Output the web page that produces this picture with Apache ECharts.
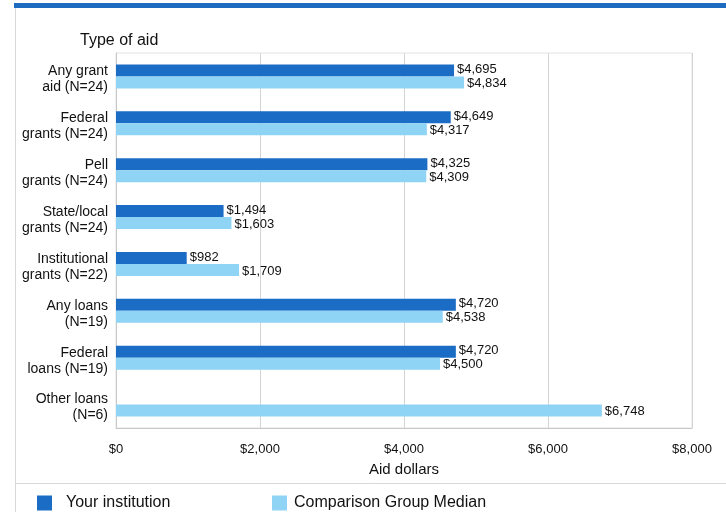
<!DOCTYPE html>
<html>
<head>
<meta charset="utf-8">
<script src="https://cdn.jsdelivr.net/npm/echarts@6/dist/echarts.min.js"></script>
<style>
  html, body { margin: 0; padding: 0; background: #ffffff; }
  #chart { width: 726px; height: 512px; }
</style>
</head>
<body>
<div id="chart"></div>
<script>
// Aid types (two-line labels) and average award amounts
const categories = [
  'Any grant\naid (N=24)',
  'Federal\ngrants (N=24)',
  'Pell\ngrants (N=24)',
  'State/local\ngrants (N=24)',
  'Institutional\ngrants (N=22)',
  'Any loans\n(N=19)',
  'Federal\nloans (N=19)',
  'Other loans\n(N=6)'
];
const yourInstitution = [4695, 4649, 4325, 1494, 982, 4720, 4720, null];
const comparisonMedian = [4834, 4317, 4309, 1603, 1709, 4538, 4500, 6748];
const xTicks = [0, 2000, 4000, 6000, 8000];

const DARK = '#1a6cc4';
const LIGHT = '#8fd3f5';
const FONT = 'Liberation Sans, Arial, sans-serif';
const INK = '#111111';

const money = v => '$' + Number(v).toLocaleString('en-US');

const chart = echarts.init(document.getElementById('chart'));

const valueLabel = {
  show: true,
  position: 'right',
  distance: 3,
  fontFamily: FONT,
  fontSize: 13,
  color: INK,
  formatter: p => money(p.value)
};

// A thin spacer line above each two-line category label nudges the
// block slightly below the band centre.
const categoryLabel = v => {
  const [l1, l2] = v.split('\n');
  return '{s| }\n{a|' + l1 + '}\n{a|' + l2 + '}';
};

chart.setOption({
  backgroundColor: '#ffffff',
  animation: false,
  title: {
    text: 'Type of aid',
    left: 75,
    top: 28,
    textStyle: { fontFamily: FONT, fontSize: 16, fontWeight: 'normal', color: INK }
  },
  legend: [
    {
      data: ['Your institution'],
      left: 32, top: 490,
      itemWidth: 15, itemHeight: 15,
      icon: 'rect',
      textStyle: { fontFamily: FONT, fontSize: 16, color: INK, padding: [0, 0, 0, 9] }
    },
    {
      data: ['Comparison Group Median'],
      left: 267, top: 490,
      itemWidth: 15, itemHeight: 15,
      icon: 'rect',
      textStyle: { fontFamily: FONT, fontSize: 16, color: INK, padding: [0, 0, 0, 2] }
    }
  ],
  grid: {
    left: 116, right: 34, top: 53, bottom: 84,
    show: true, borderColor: '#e2e2e2', borderWidth: 1
  },
  xAxis: {
    type: 'value',
    min: xTicks[0],
    max: xTicks[xTicks.length - 1],
    interval: 2000,
    name: 'Aid dollars',
    nameLocation: 'middle',
    nameGap: 34,
    nameTextStyle: { fontFamily: FONT, fontSize: 15, color: INK },
    axisLine: { show: true, lineStyle: { color: '#c8c8c8' } },
    axisTick: { show: false },
    splitLine: { show: true, lineStyle: { color: '#d4d4d4' } },
    axisLabel: {
      margin: 15,
      fontFamily: FONT, fontSize: 13, color: INK,
      formatter: v => money(v)
    }
  },
  yAxis: {
    type: 'category',
    data: categories,
    inverse: true,
    axisLine: { show: true, lineStyle: { color: '#c8c8c8' } },
    axisTick: { show: false },
    axisLabel: {
      margin: 8,
      fontFamily: FONT, fontSize: 14, color: INK,
      align: 'right',
      formatter: categoryLabel,
      rich: {
        s: { fontSize: 4, lineHeight: 6 },
        a: { fontFamily: FONT, fontSize: 14, color: INK, lineHeight: 16, align: 'right' }
      }
    }
  },
  series: [
    {
      name: 'Your institution',
      type: 'bar',
      data: yourInstitution,
      barWidth: 12,
      barGap: '0%',
      itemStyle: { color: DARK },
      label: Object.assign({}, valueLabel, { offset: [0, -1] })
    },
    {
      name: 'Comparison Group Median',
      type: 'bar',
      data: comparisonMedian,
      barWidth: 12,
      itemStyle: { color: LIGHT },
      label: Object.assign({}, valueLabel, { offset: [0, 1] })
    }
  ],
  graphic: [
    { type: 'rect', shape: { x: 14, y: 3, width: 712, height: 5 }, style: { fill: '#1d6cc0' }, silent: true },
    { type: 'line', shape: { x1: 15.5, y1: 8, x2: 15.5, y2: 512 }, style: { stroke: '#d8d8d8', lineWidth: 1 }, silent: true },
    { type: 'line', shape: { x1: 15, y1: 483.5, x2: 726, y2: 483.5 }, style: { stroke: '#d8d8d8', lineWidth: 1 }, silent: true }
  ]
});
</script>
</body>
</html>
